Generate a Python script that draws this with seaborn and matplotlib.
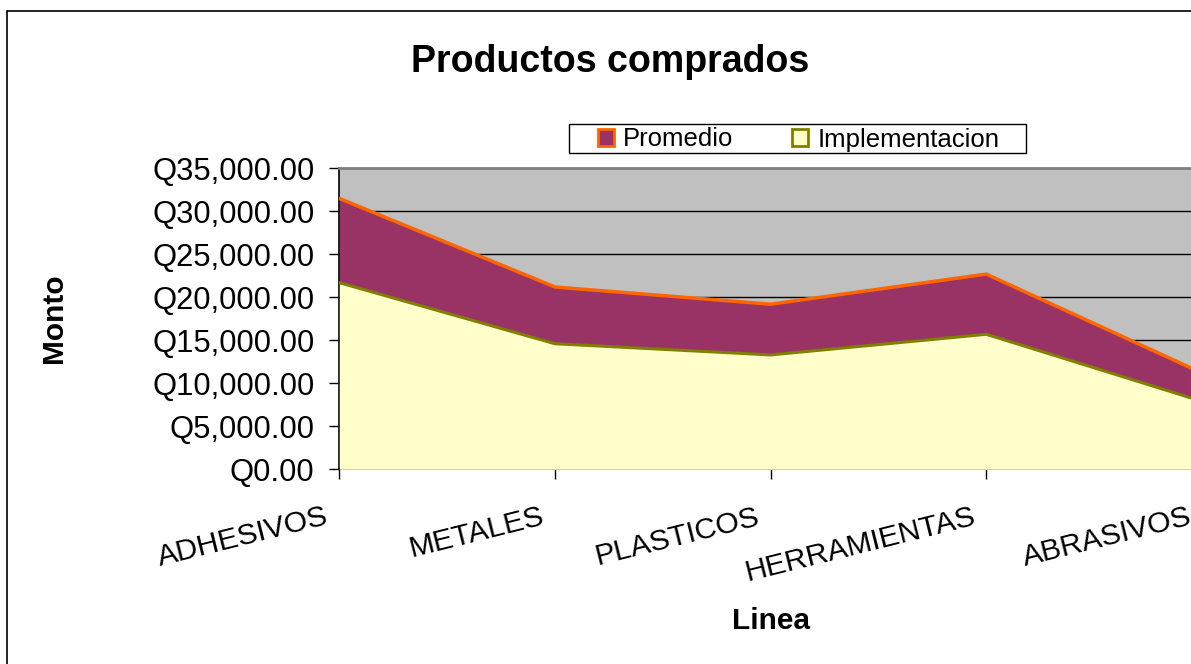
import numpy as np
import matplotlib
matplotlib.use("Agg")
import matplotlib.pyplot as plt
import seaborn as sns
from matplotlib.patches import Rectangle, Patch
from matplotlib.ticker import FuncFormatter, MultipleLocator
from matplotlib.transforms import ScaledTranslation

# Data
categorias = ["ADHESIVOS", "METALES", "PLASTICOS", "HERRAMIENTAS", "ABRASIVOS"]
promedio = [31500, 21200, 19200, 22700, 11200]
implementacion = [21700, 14600, 13300, 15700, 7900]
series = ["Promedio", "Implementacion"]

sns.set_style("white")
plt.rcParams["font.family"] = ["Liberation Sans", "DejaVu Sans"]
plt.rcParams["text.color"] = "black"
plt.rcParams["xtick.color"] = "black"
plt.rcParams["ytick.color"] = "black"

W, H = 1191, 664
fig = plt.figure(figsize=(W / 100, H / 100), dpi=100)
fig.patch.set_facecolor("white")

# plot area in pixel terms
x0, x1, y0, y1 = 339.3, 1202.0, 168.3, 469.3
ax = fig.add_axes([x0 / W, 1 - y1 / H, (x1 - x0) / W, (y1 - y0) / H])
ax.set_facecolor("#C0C0C0")

x = np.arange(len(categorias))

ax.fill_between(x, promedio, color="#993366", lw=0, zorder=2)
sns.lineplot(x=x, y=promedio, color="#FF6600", lw=2.5, ax=ax, zorder=3)
ax.fill_between(x, implementacion, color="#FFFFCC", lw=0, zorder=4)
sns.lineplot(x=x, y=implementacion, color="#808000", lw=2.2, ax=ax, zorder=5)

ax.set_xlim(0, 4)
ax.set_ylim(0, 35000)
ax.yaxis.set_major_locator(MultipleLocator(5000))
ax.yaxis.set_major_formatter(FuncFormatter(lambda v, p: f"Q{v:,.2f}"))
ax.yaxis.grid(True, color="black", lw=1.0)
ax.xaxis.grid(False)
ax.set_axisbelow(True)

ax.set_xticks(x)
ax.set_xticklabels(categorias, rotation=14, ha="right", va="top")
ax.tick_params(axis="both", direction="out", length=7, width=1, color="black",
               labelcolor="black", bottom=True, left=True)
ax.tick_params(axis="y", pad=11, labelsize=22.3)
ax.tick_params(axis="x", pad=17, labelsize=21.6)
shift = ScaledTranslation(-8 / 100, 0, fig.dpi_scale_trans)
for lab in ax.get_xticklabels():
    lab.set_transform(lab.get_transform() + shift)

for side in ["left", "bottom"]:
    ax.spines[side].set_color("black")
    ax.spines[side].set_linewidth(1.2)
ax.spines["top"].set_color("#808080")
ax.spines["top"].set_linewidth(2)
ax.spines["right"].set_visible(False)
ax.set_xlabel("")
ax.set_ylabel("")

# Titles
fig.text(610 / W, 1 - 72 / H, "Productos comprados", ha="center", va="baseline",
         fontsize=27, fontweight="bold", color="black")
fig.text(771 / W, 1 - 629 / H, "Linea", ha="center", va="baseline",
         fontsize=21.5, fontweight="bold", color="black")
fig.text(61.5 / W, 1 - 318 / H, "Monto", ha="center", va="baseline",
         rotation=90, rotation_mode="anchor", fontsize=21.5, fontweight="bold",
         color="black")

# Legend
handles = [Patch(facecolor="#993366", edgecolor="#FF6600", lw=2),
           Patch(facecolor="#FFFFCC", edgecolor="#808000", lw=2)]
leg = fig.legend(handles, series, loc="center", bbox_to_anchor=(798.5 / W, 1 - 139.5 / H),
                 ncol=2, frameon=False, fontsize=18.5, handlelength=0.62, handleheight=0.62,
                 handletextpad=0.36, columnspacing=2.3, borderpad=0.0)
for t in leg.get_texts():
    t.set_color("black")
fig.patches.append(Rectangle((569 / W, 1 - 153 / H), (1026 - 569) / W, 29 / H,
                             transform=fig.transFigure, fill=False, ec="black", lw=1))

# Chart frame
fig.patches.append(Rectangle((7 / W, -0.1), 1.2, 1 - 11 / H + 0.1,
                             transform=fig.transFigure, fill=False, ec="black", lw=1.2))

fig.savefig("out.png", dpi=100)
